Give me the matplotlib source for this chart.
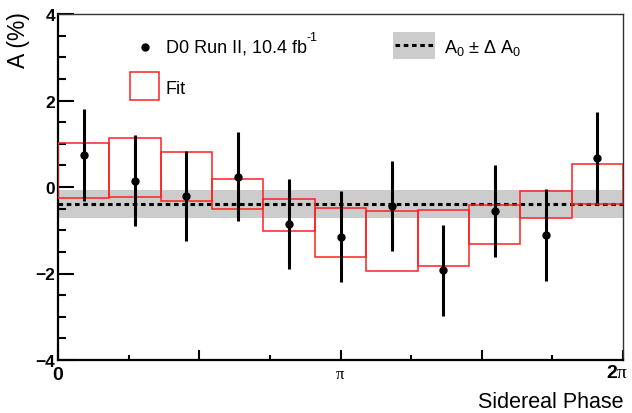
import numpy as np
import matplotlib.pyplot as plt
from matplotlib.patches import Rectangle
from matplotlib.lines import Line2D

plt.rcParams['font.family'] = ['Liberation Sans', 'DejaVu Sans']
plt.rcParams['mathtext.fontset'] = 'custom'
plt.rcParams['mathtext.rm'] = 'Liberation Sans'
plt.rcParams['mathtext.bf'] = 'Liberation Sans:bold'
plt.rcParams['mathtext.sf'] = 'Liberation Serif'

# asymmetry per sidereal phase bin (11 bins over 0..2pi)
n_bins = 11
asym = [0.74, 0.15, -0.21, 0.24, -0.86, -1.15, -0.45, -1.93, -0.55, -1.11, 0.68]
asym_err = [1.06, 1.05, 1.05, 1.03, 1.04, 1.05, 1.04, 1.05, 1.06, 1.06, 1.05]

# fit band (upper / lower edge per bin)
fit_hi = [1.02, 1.14, 0.81, 0.19, -0.28, -0.49, -0.56, -0.54, -0.41, -0.09, 0.53]
fit_lo = [-0.26, -0.23, -0.32, -0.52, -1.02, -1.62, -1.94, -1.83, -1.32, -0.72, -0.40]

# constant asymmetry
A0 = -0.40
dA0 = 0.32

edges = np.linspace(0, 2 * np.pi, n_bins + 1)
width = edges[1] - edges[0]
centers = edges[:-1] + width / 2

fig = plt.figure(figsize=(6.32, 4.14), dpi=100)
ax = fig.add_axes([58 / 632, 53 / 414, 565 / 632, 346 / 414])

# A0 band and line
ax.axhspan(A0 - dA0, A0 + dA0, color='#cccccc', lw=0, zorder=1)
ax.axhline(A0, color='black', ls=(0, (1.5, 1.2)), lw=2.2, zorder=2)

# fit boxes
for i in range(n_bins):
    ax.add_patch(Rectangle((edges[i], fit_lo[i]), width, fit_hi[i] - fit_lo[i],
                           fill=False, edgecolor='#ff2020', lw=1.1, zorder=3))

# data
ax.errorbar(centers, asym, yerr=asym_err, fmt='o', color='black', ms=5,
            elinewidth=2.2, capsize=0, zorder=4)

ax.set_xlim(0, 2 * np.pi)
ax.set_ylim(-4, 4)

ax.set_xticks([0, np.pi / 2, np.pi, 3 * np.pi / 2, 2 * np.pi])
ax.set_xticks(np.arange(1, 8, 2) * np.pi / 4, minor=True)
ax.set_xticklabels(['0', '', r'$\mathsf{\pi}$', '', ''])
xl = ax.get_xticklabels()
xl[0].set_fontweight('bold')
xl[0].set_fontsize(14)
xl[2].set_fontsize(12)
# 2pi label sits flush with the right edge of the figure
fig.text(628 / 632, 1 - 365 / 414, r'$\mathbf{2}\mathsf{\pi}$', fontsize=14,
         ha='right', va='top')

ax.set_yticks([-4, -2, 0, 2, 4])
ax.set_yticks(np.arange(-4, 4.01, 0.5), minor=True)
ax.set_yticklabels(['\u22124', '\u22122', '0', '2', '4'], fontweight='bold', fontsize=12.5)

ax.tick_params(axis='both', which='both', direction='in', width=1.5, colors='black')
ax.tick_params(axis='y', which='major', length=11.5, pad=2)
ax.tick_params(axis='y', which='minor', length=5.8)
ax.tick_params(axis='x', which='major', length=7.2, pad=4)
ax.tick_params(axis='x', which='minor', length=3.6)

for s in ['left', 'bottom']:
    ax.spines[s].set_linewidth(1.6)
for s in ['top', 'right']:
    ax.spines[s].set_linewidth(1.0)
    ax.spines[s].set_color('#333333')

fig.text(19 / 632, 1 - 12 / 414, 'A (%)', fontsize=16.5, rotation=90, ha='center', va='top')
fig.text(623 / 632, 1 - 408 / 414, 'Sidereal Phase', fontsize=15.5, ha='right', va='baseline')

# legend drawn by hand
ax.plot([0.154], [0.905], 'o', color='black', ms=5, transform=ax.transAxes, clip_on=False)
t1 = ax.text(0.191, 0.905, 'D0 Run II, 10.4 fb', transform=ax.transAxes,
             fontsize=13, va='center', ha='left')
ax.annotate('-1', xy=(1, 0.72), xycoords=t1, fontsize=9, ha='left', va='bottom')
ax.add_patch(Rectangle((0.127, 0.751), 0.052, 0.081, fill=False, edgecolor='#ff2020',
                       lw=1.1, transform=ax.transAxes))
ax.text(0.191, 0.786, 'Fit', transform=ax.transAxes, fontsize=13, va='center', ha='left')
ax.add_patch(Rectangle((0.593, 0.870), 0.074, 0.078, facecolor='#cccccc', lw=0,
                       transform=ax.transAxes))
ax.add_line(Line2D([0.597, 0.663], [0.910, 0.910], color='black', ls=(0, (1.5, 1.2)),
                   lw=2.2, transform=ax.transAxes))
ax.text(0.683, 0.905, r'A$_0$ $\pm$ $\Delta$ A$_0$', transform=ax.transAxes,
        fontsize=13, va='center', ha='left')

fig.savefig('out.png', dpi=100)
